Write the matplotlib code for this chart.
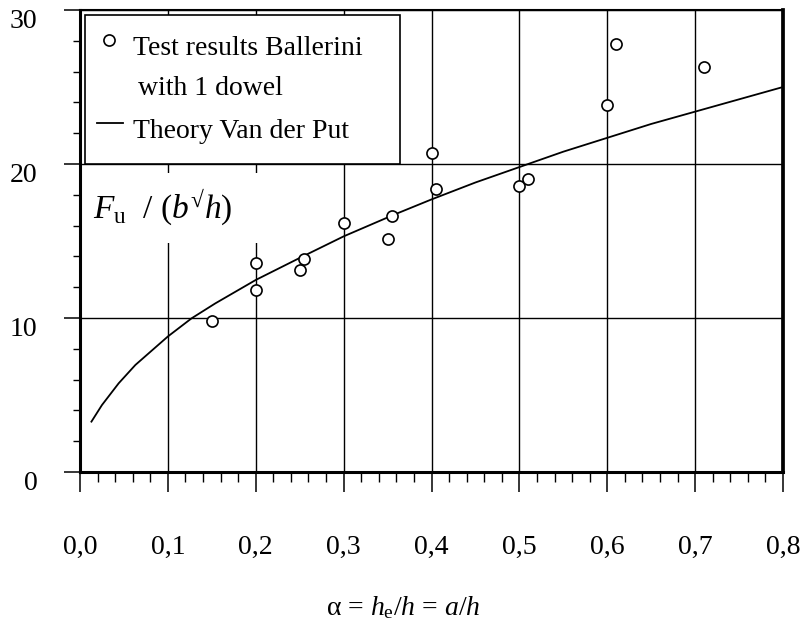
import matplotlib
matplotlib.use("Agg")
import matplotlib.pyplot as plt
import matplotlib.transforms as mtransforms
from matplotlib.patches import Rectangle
from matplotlib.ticker import MultipleLocator, FixedLocator

# Test results Ballerini, 1 dowel
alpha_test = [0.15, 0.20, 0.20, 0.25, 0.255, 0.30, 0.35, 0.355, 0.40, 0.405, 0.50, 0.51, 0.60, 0.61, 0.71]
fu_test = [9.8, 13.6, 11.8, 13.1, 13.8, 16.2, 15.1, 16.6, 20.7, 18.4, 18.6, 19.0, 23.8, 27.8, 26.3]

# Theory Van der Put
alpha_theory = [0.013, 0.025, 0.044, 0.063, 0.082, 0.10, 0.127, 0.154, 0.20, 0.25, 0.30,
                0.357, 0.40, 0.45, 0.51, 0.55, 0.60, 0.65, 0.70, 0.75, 0.80]
fu_theory = [3.27, 4.35, 5.76, 6.95, 7.9, 8.8, 9.98, 10.95, 12.47, 13.9, 15.3,
             16.7, 17.7, 18.8, 20.0, 20.8, 21.7, 22.6, 23.4, 24.2, 25.0]

x_ticks = [0.0, 0.1, 0.2, 0.3, 0.4, 0.5, 0.6, 0.7, 0.8]
x_ticklabels = ["0,0", "0,1", "0,2", "0,3", "0,4", "0,5", "0,6", "0,7", "0,8"]
y_ticks = [0, 10, 20, 30]

plt.rcParams["font.family"] = ["Liberation Serif", "DejaVu Serif"]
plt.rcParams["mathtext.fontset"] = "custom"
plt.rcParams["mathtext.rm"] = "Liberation Serif"
plt.rcParams["mathtext.it"] = "Liberation Serif:italic"

fig = plt.figure(figsize=(8.01, 6.2), dpi=100)
ax = fig.add_axes([80 / 801, 148 / 620, 703 / 801, 462 / 620])

ax.set_xlim(0, 0.8)
ax.set_ylim(0, 30)

# grid
ax.grid(True, which="major", color="black", linewidth=1.0, zorder=1)
ax.set_axisbelow(True)

# curve and points
ax.plot(alpha_theory, fu_theory, color="black", linewidth=1.3, zorder=3)
ax.plot(alpha_test, fu_test, linestyle="none", marker="o", markersize=8,
        markerfacecolor="white", markeredgecolor="black", markeredgewidth=1.2, zorder=4)

# ticks
ax.xaxis.set_major_locator(FixedLocator(x_ticks))
ax.set_xticklabels(x_ticklabels)
ax.xaxis.set_minor_locator(MultipleLocator(0.02))
ax.yaxis.set_major_locator(FixedLocator(y_ticks))
ax.yaxis.set_minor_locator(MultipleLocator(2))
ax.tick_params(axis="x", which="major", direction="out", length=14.4, width=1.1,
               pad=31, labelsize=20)
ax.tick_params(axis="x", which="minor", direction="out", length=7.2, width=1.0)
ax.tick_params(axis="y", which="major", direction="out", length=11.5, width=1.1,
               pad=19, labelsize=20)
ax.tick_params(axis="y", which="minor", direction="out", length=5, width=1.0)

offset = mtransforms.ScaledTranslation(0, -0.08, fig.dpi_scale_trans)
for lab in ax.get_yticklabels():
    lab.set_transform(lab.get_transform() + offset)

for side, lw in [("left", 2.2), ("bottom", 2.2), ("top", 1.5), ("right", 2.7)]:
    ax.spines[side].set_linewidth(lw)
    ax.spines[side].set_color("black")

# white patch behind the y label
ax.add_patch(Rectangle((0.003, 0.496), 0.256, 0.151, transform=ax.transAxes,
                       facecolor="white", edgecolor="none", zorder=2))
ax.text(0.0185, 0.55, r"$F_{\mathrm{u}}$  / ($b^{\mathrm{√}}h$)", transform=ax.transAxes,
        fontsize=24, ha="left", va="baseline", zorder=2.5)

# legend box drawn by hand
ax.add_patch(Rectangle((0.0071, 0.667), 0.448, 0.322, transform=ax.transAxes,
                       facecolor="white", edgecolor="black", linewidth=1.2, zorder=5))
ax.plot([0.0417], [0.935], transform=ax.transAxes, marker="o", markersize=8,
        markerfacecolor="white", markeredgecolor="black", markeredgewidth=1.2,
        linestyle="none", zorder=6)
ax.plot([0.0242, 0.0612], [0.7547, 0.7547], transform=ax.transAxes,
        color="black", linewidth=1.3, zorder=6)
ax.text(0.0758, 0.9026, "Test results Ballerini", transform=ax.transAxes,
        fontsize=20, va="baseline", zorder=6)
ax.text(0.0825, 0.816, "with 1 dowel", transform=ax.transAxes,
        fontsize=20, va="baseline", zorder=6)
ax.text(0.0758, 0.723, "Theory Van der Put", transform=ax.transAxes,
        fontsize=20, va="baseline", zorder=6)

# x label
fig.text(403 / 801, 5 / 620, r"α = $h_{\mathrm{e}}/h$ = $a/h$", fontsize=20,
         ha="center", va="baseline")

fig.savefig("out.png", dpi=100)
